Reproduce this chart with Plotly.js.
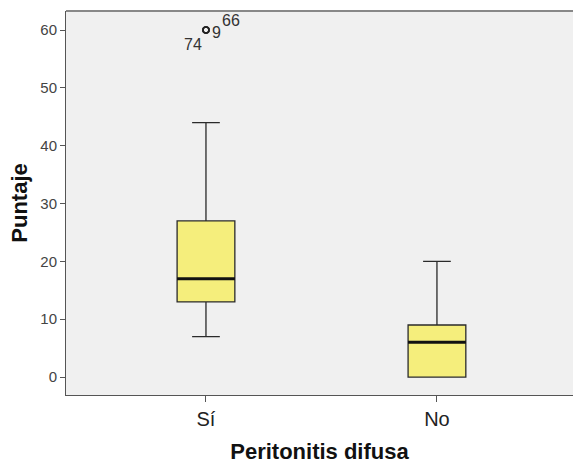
<!DOCTYPE html>
<html>
<head>
<meta charset="utf-8">
<script src="https://cdn.plot.ly/plotly-3.0.1.min.js"></script>
<style>html,body{margin:0;padding:0;background:#fff;}#chart{width:573px;height:465px;}</style>
</head>
<body>
<div id="chart"></div>
<script>
const categories = ["Sí", "No"];
const q1Values = [13, 0];
const medianValues = [17, 6];
const q3Values = [27, 9];
const lowerWhisker = [7, 0];
const upperWhisker = [44, 20];
const outlierCategory = ["Sí", "Sí", "Sí"];
const outlierValues = [60, 60, 60];
const outlierLabels = ["74", "9", "66"];

const boxWidth = 0.25;
const catIndex = c => categories.indexOf(c);
const FONT = "Liberation Sans, Arial, sans-serif";

const traces = [];
traces.push({
  type: "box",
  x: categories.map((c, i) => i),
  q1: q1Values,
  median: medianValues,
  q3: q3Values,
  lowerfence: lowerWhisker,
  upperfence: upperWhisker,
  boxpoints: false,
  width: boxWidth,
  whiskerwidth: 0.48,
  fillcolor: "#f5ee7c",
  line: {color: "#2a2a2a", width: 1.3},
  hoverinfo: "skip",
  showlegend: false
});
// thick median lines
categories.forEach((c, i) => {
  traces.push({
    type: "scatter", mode: "lines",
    x: [i - boxWidth / 2, i + boxWidth / 2],
    y: [medianValues[i], medianValues[i]],
    line: {color: "#111111", width: 3},
    hoverinfo: "skip", showlegend: false
  });
});
// outlier marker
traces.push({
  type: "scatter", mode: "markers",
  x: outlierCategory.map(catIndex),
  y: outlierValues,
  marker: {symbol: "circle-open", size: 6, color: "#222", line: {width: 1.5}},
  hoverinfo: "skip", showlegend: false
});
// label offsets in pixels (position only)
const labelShift = [[-13, -14], [11, -2], [25, 10]];
const annotations = outlierLabels.map((lab, k) => ({
  x: catIndex(outlierCategory[k]), y: outlierValues[k],
  xref: "x", yref: "y",
  text: lab, showarrow: false,
  xshift: labelShift[k][0], yshift: labelShift[k][1],
  font: {family: FONT, size: 16, color: "#333"}
}));

const layout = {
  width: 573, height: 465,
  margin: {l: 66, r: 0, t: 11, b: 70},
  paper_bgcolor: "#ffffff",
  plot_bgcolor: "#f0f0f0",
  font: {family: FONT, color: "#333"},
  annotations: annotations,
  xaxis: {
    range: [-0.606, 1.589],
    tickvals: categories.map((c, i) => i),
    ticktext: categories,
    showgrid: false, zeroline: false,
    showline: true, linecolor: "#555", linewidth: 1,
    ticks: "outside", ticklen: 6, tickcolor: "#555",
    tickfont: {size: 20, color: "#222"},
    title: {text: "<b>Peritonitis difusa</b>", font: {size: 22, color: "#111"}, standoff: 14}
  },
  yaxis: {
    range: [-3.1, 63.3],
    tickvals: [0, 10, 20, 30, 40, 50, 60],
    showgrid: false, zeroline: false,
    showline: true, linecolor: "#555", linewidth: 1,
    ticks: "outside", ticklen: 5, tickcolor: "#555",
    tickfont: {size: 15, color: "#444"},
    title: {text: "<b>Puntaje</b>", font: {size: 22, color: "#111"}, standoff: 6}
  },
  shapes: [{type: "line", xref: "paper", yref: "paper", x0: 0, x1: 1, y0: 1, y1: 1, line: {color: "#888", width: 2}}]
};

Plotly.newPlot("chart", traces, layout, {displayModeBar: false, staticPlot: true});
</script>
</body>
</html>
